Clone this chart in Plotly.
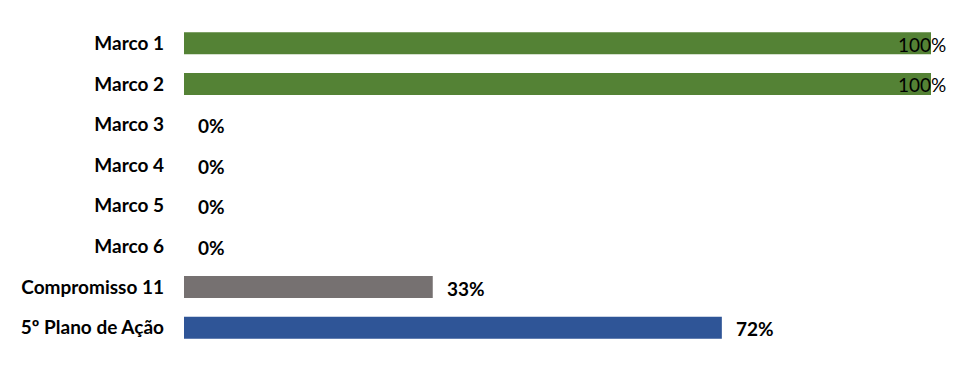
import plotly.graph_objects as go

categories = ["Marco 1", "Marco 2", "Marco 3", "Marco 4", "Marco 5", "Marco 6",
              "Compromisso 11", "5º Plano de Ação"]
values = [1.00, 1.00, 0.0, 0.0, 0.0, 0.0, 0.333, 0.72]
colors = ["#548235", "#548235", "#548235", "#548235", "#548235", "#548235",
          "#767171", "#2F5597"]
labels = ["100%", "100%", "0%", "0%", "0%", "0%", "33%", "72%"]

FONT = "Lato"

fig = go.Figure()
fig.add_trace(go.Bar(
    y=categories, x=values, orientation="h",
    marker=dict(color=colors, line=dict(width=0)),
    width=0.54, hoverinfo="skip",
))

for cat, v, lab in zip(categories, values, labels):
    if v >= 1.0:
        fig.add_annotation(x=v, y=cat, text=lab, showarrow=False,
                           xanchor="right", xshift=17, yshift=-1,
                           font=dict(family=FONT, size=19, color="#000000"))
    else:
        fig.add_annotation(x=v, y=cat, text="<b>" + lab + "</b>", showarrow=False,
                           xanchor="left", xshift=12, yshift=-1,
                           font=dict(family=FONT, size=19, color="#000000"))

fig.update_layout(
    width=954, height=371,
    margin=dict(l=184, r=23, t=23, b=23),
    plot_bgcolor="white", paper_bgcolor="white",
    showlegend=False,
    xaxis=dict(range=[0, 1], visible=False, fixedrange=True),
    yaxis=dict(autorange="reversed", showgrid=False, zeroline=False,
               showline=False, ticks="", ticklabelstandoff=19,
               tickfont=dict(family=FONT, size=19, color="#000000", weight="bold")),
)

fig.write_html("out.html")
